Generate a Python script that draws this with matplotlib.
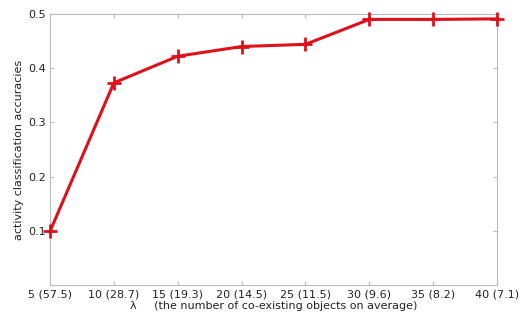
import matplotlib
matplotlib.use("Agg")
import matplotlib.pyplot as plt

lambdas = [5, 10, 15, 20, 25, 30, 35, 40]
avg_objects = [57.5, 28.7, 19.3, 14.5, 11.5, 9.6, 8.2, 7.1]
accuracy = [0.099, 0.373, 0.422, 0.440, 0.444, 0.490, 0.490, 0.491]
tick_labels = [f"{l} ({a})" for l, a in zip(lambdas, avg_objects)]
y_ticks = [0.1, 0.2, 0.3, 0.4, 0.5]

fig = plt.figure(figsize=(5.26, 3.2), dpi=100)
ax = fig.add_axes([50 / 526, 35 / 320, 447 / 526, 271 / 320])

ax.plot(lambdas, accuracy, color="#e0101a", linewidth=2.2, marker="+",
        markersize=10, markeredgewidth=2, clip_on=False, zorder=5)

ax.set_xlim(5, 40)
ax.set_ylim(0, 0.5)
ax.set_xticks(lambdas)
ax.set_xticklabels(tick_labels)
ax.set_yticks(y_ticks)
ax.set_yticklabels([f"{v:.1f}" for v in y_ticks])
ax.tick_params(direction="in", length=3, labelsize=8, colors="#bbbbbb",
               labelcolor="#222222", pad=3, top=True, right=True)
for s in ax.spines.values():
    s.set_color("#bbbbbb")
    s.set_linewidth(0.8)

ax.set_xlabel("λ     (the number of co-existing objects on average)",
              fontsize=8, color="#222222", labelpad=1)
ax.set_ylabel("activity classification accuracies", fontsize=8,
              color="#222222", labelpad=3)

fig.savefig("out.png", dpi=100)
